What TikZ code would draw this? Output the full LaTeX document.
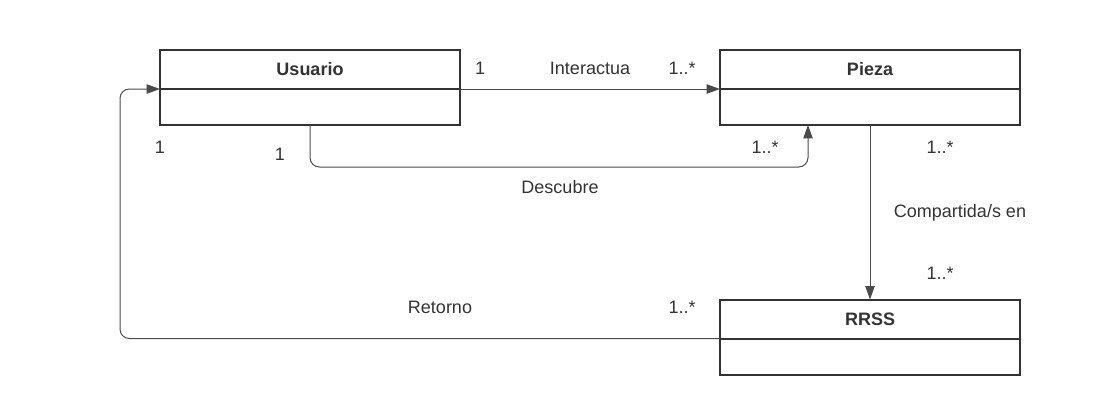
\documentclass[tikz,border=0pt]{standalone}
\usepackage{fontspec}
\setmainfont{Liberation Sans}
\usetikzlibrary{positioning,arrows.meta}
\definecolor{boxC}{HTML}{333333}
\definecolor{lineC}{HTML}{4A4A4A}
\tikzstyle{cT}=[rectangle,draw=boxC,line width=1.5pt,outer sep=0pt,minimum width=225pt,minimum height=29.25pt,inner sep=0pt,font=\fontsize{13.5}{16}\selectfont\bfseries,text=boxC]
\tikzstyle{cB}=[rectangle,draw=boxC,line width=1.5pt,outer sep=0pt,minimum width=225pt,minimum height=27pt,inner sep=0pt]
\tikzstyle{eS}=[draw=lineC,line width=0.75pt,-{Triangle[length=10pt,width=7pt]},rounded corners=7pt]
\tikzstyle{eL}=[inner sep=0pt,font=\fontsize{13.5}{16}\selectfont,text=boxC]

\begin{document}
\begin{tikzpicture}[x=0.75pt,y=-0.75pt]
                \useasboundingbox (0,0) rectangle (1120,415);
                \node[cT] (usuario) at (310,69.5) {Usuario};
                \node[cB,below=0pt of usuario] (usuarioB) {};
                \node[cT] (pieza) at (870,69.5) {Pieza};
                \node[cB,below=0pt of pieza] (piezaB) {};
                \node[cT] (rrss) at (870,319) {RRSS};
                \node[cB,below=0pt of rrss] (rrssB) {};
                % labels
                \node[eL] (mI1) at (480,68) {1};
                \node[eL] (lI) at (590,68) {Interactua};
                \node[eL] (mI2) at (682,68) {1..*};
                \node[eL] (mD1) at (280,154) {1};
                \node[eL] (mD2) at (765,147) {1..*};
                \node[eL] (lD) at (560,187) {Descubre};
                \node[eL] (mC1) at (940,147) {1..*};
                \node[eL] (lC) at (960,213) {Compartida/s en};
                \node[eL] (mC2) at (940,273) {1..*};
                \node[eL] (lR) at (440,307) {Retorno};
                \node[eL] (mR2) at (682,307) {1..*};
                \node[eL] (mR1) at (160,147) {1};
                % edges
                \draw[eS] (usuario.south east) -- (pieza.south west);
                \draw[eS] (usuarioB.south) -- ++(0,42) -| ([xshift=-46.5pt]piezaB.south);
                \draw[eS] (piezaB.south) -- (rrss.north);
                \draw[eS] (rrss.south west) -- ++(-600,0) |- (usuario.south west);
        \end{tikzpicture}
\end{document}
